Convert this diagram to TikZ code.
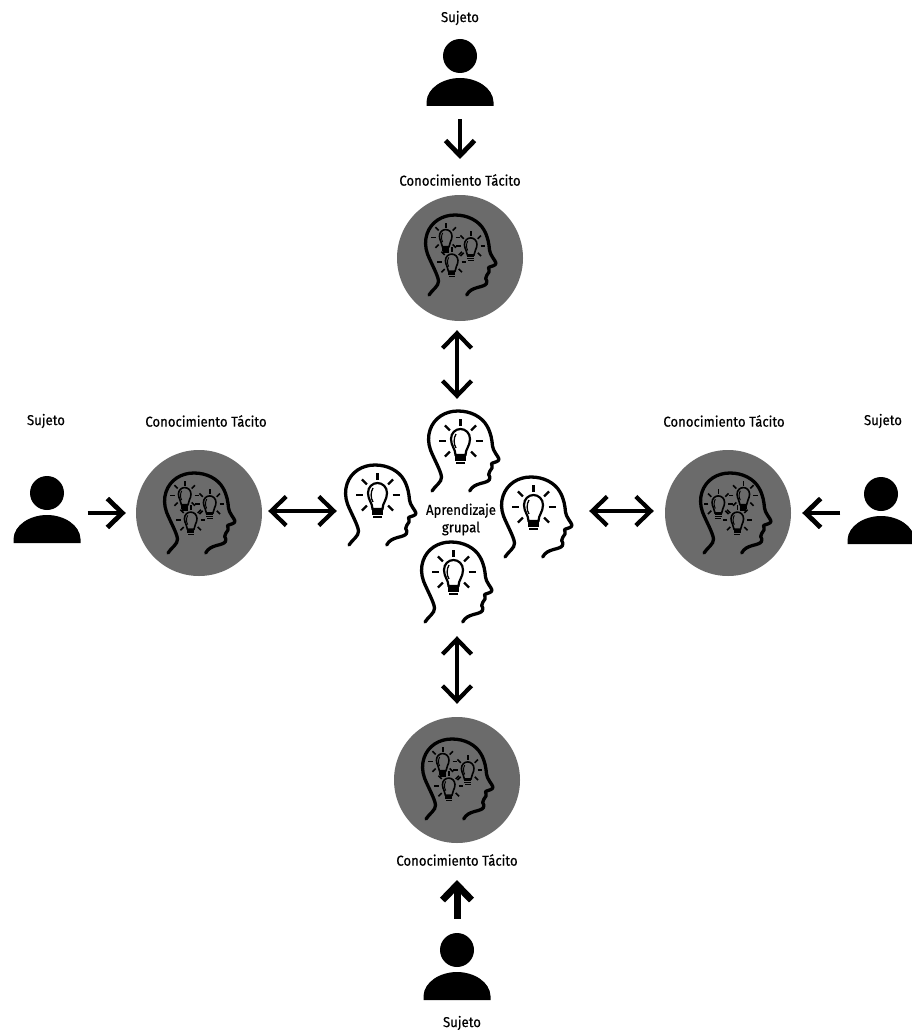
\documentclass[tikz,border=0pt]{standalone}
\usepackage{fontspec}
\setmainfont{Fira Sans}[FakeStretch=0.92,FakeBold=0.4]
\usetikzlibrary{arrows.meta}

\definecolor{circgray}{HTML}{6B6B6B}

\tikzset{
    lbl/.style={font=\fontsize{14.3}{17.5}\selectfont, align=center, inner sep=0pt},
    circ/.style={circle, fill=circgray, minimum size=126pt, inner sep=0pt},
    box/.style={minimum width=#1, minimum height=68pt, inner sep=0pt},
    oneway/.style={-{Straight Barb[length=15pt,width=29pt]}, line width=4.8pt},
    twoway/.style={{Straight Barb[length=15pt,width=29pt]}-{Straight Barb[length=15pt,width=29pt]}, line width=4.2pt},
    pics/bulb/.style={code={
        \begin{scope}[line width=#1pt]
            \draw (-5,14) .. controls (-5,8) and (-9.5,5) .. (-9.5,-2) .. controls (-9.5,-8) and (-5,-12) .. (0,-12)
                .. controls (5,-12) and (9.5,-8) .. (9.5,-2) .. controls (9.5,5) and (5,8) .. (5,14) -- cycle;
            \draw[line width=0.6*#1pt] (-4.5,-7) .. controls (-7,-3) and (-7,3) .. (-4.5,7);
            \foreach \a in {-90,-45,0,45,135,180,225}
                \draw (\a:15) -- (\a:22);
            \fill (-5.5,14) rectangle (5.5,17.5);
            \fill (-5.5,17.9) rectangle (5.5,20.4);
            \fill (-4.5,20.8) rectangle (4.5,23);
        \end{scope}
    }},
    pics/headline/.style={code={
        \draw[line width=3.3pt, line cap=round, line join=round] (-28,35) .. controls (-25,30) and (-18,26) .. (-18.5,21)
            .. controls (-19,15) and (-26,3) .. (-29.5,-6)
            .. controls (-32,-13) and (-32,-20) .. (-30,-26)
            .. controls (-26,-38) and (-15,-45) .. (-2,-45)
            .. controls (11,-45) and (22,-39) .. (27,-30)
            .. controls (31,-23) and (32,-16) .. (32.5,-10)
            .. controls (33,-5) and (38,0) .. (39,3)
            .. controls (39,6) and (34,6) .. (31.5,7.5)
            .. controls (31,9) and (33,10) .. (32,12)
            .. controls (31,15) and (28,16) .. (28.7,18.5)
            .. controls (30,20) and (30,22) .. (29.5,23.5)
            .. controls (27,28) and (14,26) .. (9.7,35);
    }},
    pics/grouphead/.style={code={
        \pic {headline};
        \pic at (0.5,-15) {bulb=2.2};
    }},
    pics/tacithead/.style={code={
        \pic {headline};
        \pic[scale=.66] at (-11.3,-22.5) {bulb=1.6};
        \pic[scale=.66] at (13.7,-14.2) {bulb=1.6};
        \pic[scale=.66] at (-5.3,2) {bulb=1.6};
    }},
    pics/subject/.style={code={
        \fill (0,0) circle (17);
        \fill (-33.5,50) -- (-33.5,46) .. controls (-33,32) and (-17,22) .. (0,22)
            .. controls (17,22) and (33,32) .. (33.5,46) -- (33.5,50) -- cycle;
    }},
}

\begin{document}
\begin{tikzpicture}[x=1pt,y=-1pt]

    % Fix the page
    \useasboundingbox (0,0) rectangle (911,1030);

    % Circles with the tacit knowledge
    \node[circ] (circT) at (460,258) {};
    \node[circ] (circL) at (199,513) {};
    \node[circ] (circR) at (728,513) {};
    \node[circ] (circB) at (457,780) {};
    \pic at (457,260) {tacithead};
    \pic at (196,518) {tacithead};
    \pic[xscale=-1] at (732,518) {tacithead};
    \pic at (454,784) {tacithead};

    % Group heads
    \node[box=68pt] (headT) at (457,456) {};
    \node[box=68pt] (headL) at (379,511) {};
    \node[box=68pt] (headR) at (538,511) {};
    \node[box=68pt] (headB) at (457,582) {};
    \pic at (460,456) {grouphead};
    \pic at (377,510) {grouphead};
    \pic at (533,522) {grouphead};
    \pic at (453,587) {grouphead};
    \node[lbl] (group) at (461,519.5) {Aprendizaje\\grupal};

    % Subjects
    \node[box=67pt] (subjT) at (460,72) {};
    \node[box=67pt] (subjL) at (47,510) {};
    \node[box=67pt] (subjR) at (881,510) {};
    \node[box=67pt] (subjB) at (457,966) {};
    \pic at (460,56) {subject};
    \pic at (47,493) {subject};
    \pic at (881,494) {subject};
    \pic at (457,950) {subject};

    % Labels
    \node[lbl] (subjlabT) at (460,18) {Sujeto};
    \node[lbl] (subjlabL) at (46,421) {Sujeto};
    \node[lbl] (subjlabR) at (883,421) {Sujeto};
    \node[lbl] (subjlabB) at (462,1023) {Sujeto};
    \node[lbl] (tacitT) at (460,180) {Conocimiento Tácito};
    \node[lbl] (tacitL) at (206,421) {Conocimiento Tácito};
    \node[lbl] (tacitR) at (724,421) {Conocimiento Tácito};
    \node[lbl] (tacitB) at (457,860) {Conocimiento Tácito};

    % Subject to circle
    \draw[oneway, shorten <=13pt, shorten >=15pt] (subjT) -- (tacitT);
    \draw[oneway, shorten <=7pt, shorten >=10pt] (subjL.east |- circL) -- (circL);
    \draw[oneway, shorten <=7pt, shorten >=11pt] (subjR.west |- circR) -- (circR);
    \draw[oneway, line width=7pt, shorten <=13pt, shorten >=14pt] (subjB) -- (tacitB);

    % Circle to group
    \draw[twoway, shorten <=9pt, shorten >=23pt] (circT.south -| headT) -- (headT);
    \draw[twoway, shorten <=6pt, shorten >=8pt] (circL.east |- headL) -- (headL);
    \draw[twoway, shorten <=11pt, shorten >=17pt] (circR.west |- headR) -- (headR);
    \draw[twoway, shorten <=13pt, shorten >=20pt] (circB.north -| headB) -- (headB);

\end{tikzpicture}
\end{document}
